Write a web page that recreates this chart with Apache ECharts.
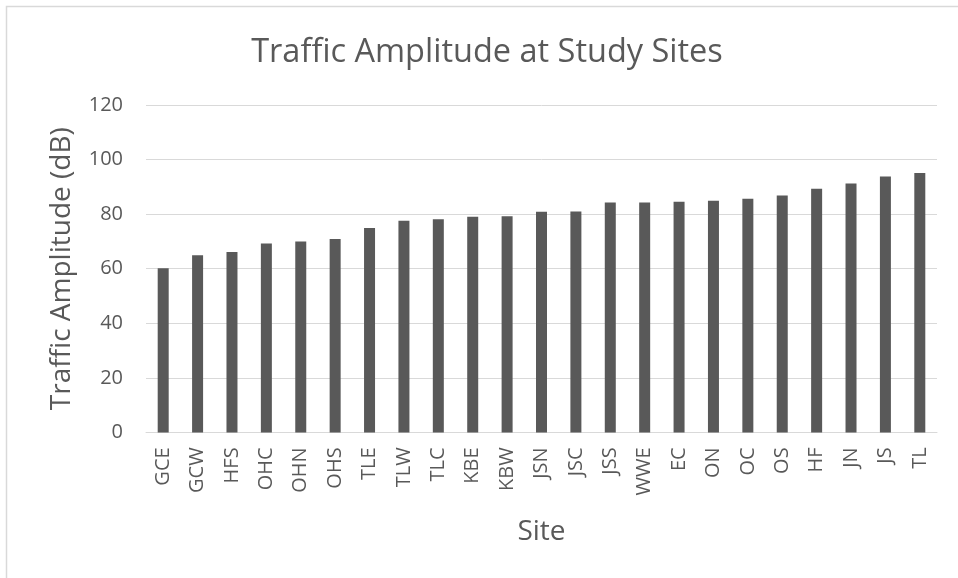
<!DOCTYPE html>
<html>
<head>
<meta charset="utf-8">
<script src="https://cdn.jsdelivr.net/npm/echarts@6/dist/echarts.min.js"></script>
<style>
  html, body { margin: 0; padding: 0; background: #fff; }
  #trafficChart { width: 958px; height: 578px; }
</style>
</head>
<body>
<div id="trafficChart"></div>
<script>
  // site codes, lowest to highest
  var sites = ['GCE','GCW','HFS','OHC','OHN','OHS','TLE','TLW','TLC','KBE','KBW',
               'JSN','JSC','JSS','WWE','EC','ON','OC','OS','HF','JN','JS','TL'];
  // traffic amplitude (dB)
  var amplitude = [60.2,64.9,66.1,69.2,70.0,70.9,74.9,77.6,78.1,79.0,79.2,
                   80.9,81.0,84.3,84.3,84.5,84.9,85.6,86.8,89.3,91.2,93.8,95.1];
  var yTicks = { min: 0, max: 120, step: 20 };

  var textColor = '#595959';
  var fontFam = '"Open Sans", "Liberation Sans", sans-serif';

  var myChart = echarts.init(document.getElementById('trafficChart'));
  var option = {
    animation: false,
    title: {
      text: 'Traffic Amplitude at Study Sites',
      left: 482,
      top: 31,
      textAlign: 'center',
      textStyle: { color: textColor, fontFamily: fontFam, fontWeight: 'normal', fontSize: 32.5 }
    },
    graphic: [{
      type: 'rect',
      shape: { x: 6.5, y: 6.5, width: 1000, height: 1000 },
      style: { fill: 'none', stroke: '#d9d9d9', lineWidth: 1.5 },
      silent: true
    }],
    grid: { left: 146, right: 21, top: 105, bottom: 145.6 },
    xAxis: {
      type: 'category',
      data: sites,
      name: 'Site',
      nameLocation: 'middle',
      nameGap: 86,
      nameTextStyle: { color: textColor, fontFamily: fontFam, fontSize: 28 },
      axisLine: { lineStyle: { color: '#d9d9d9', width: 1 } },
      axisTick: { show: false },
      axisLabel: { rotate: 90, margin: 15, color: textColor, fontFamily: fontFam, fontSize: 20 }
    },
    yAxis: {
      type: 'value',
      min: yTicks.min,
      max: yTicks.max,
      interval: yTicks.step,
      name: 'Traffic Amplitude (dB)',
      nameLocation: 'middle',
      nameGap: 70,
      nameTextStyle: { color: textColor, fontFamily: fontFam, fontSize: 28 },
      axisLine: { show: false },
      axisTick: { show: false },
      axisLabel: { margin: 23, color: textColor, fontFamily: fontFam, fontSize: 20 },
      splitLine: { lineStyle: { color: '#d9d9d9', width: 1 } }
    },
    series: [{
      name: 'Traffic Amplitude',
      type: 'bar',
      data: amplitude,
      barWidth: 11,
      itemStyle: { color: '#595959' }
    }]
  };
  myChart.setOption(option);
</script>
</body>
</html>
